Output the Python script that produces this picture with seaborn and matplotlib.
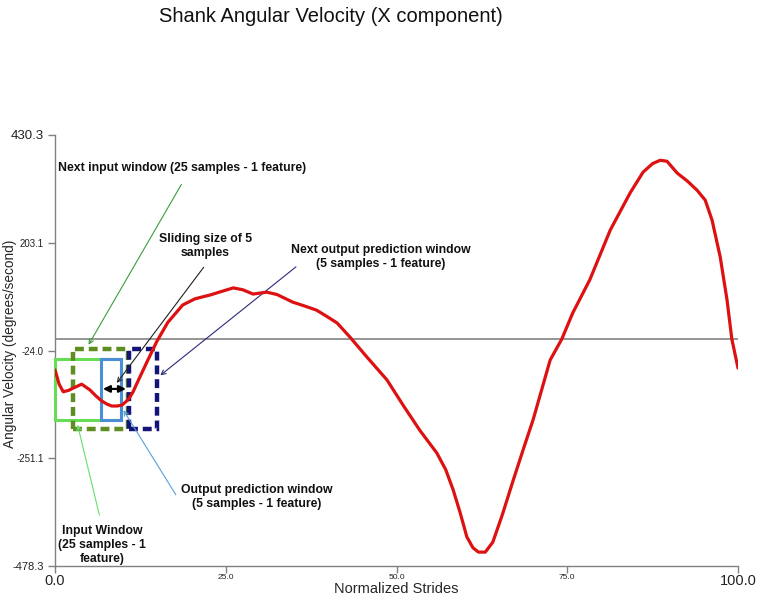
import matplotlib
matplotlib.use("Agg")
import matplotlib.pyplot as plt
from matplotlib.patches import Rectangle
import pandas as pd
import seaborn as sns

# stride curve
stride_pct = [0, 0.6, 1.2, 2.0, 2.7, 3.9, 5.1, 6.0, 6.8, 7.6, 8.3, 9.1, 9.8, 10.7, 11.4,
              12.0, 13.4, 14.9, 16.5, 18.7, 20.5, 22.7, 24.5, 26.1, 27.5, 29.0, 31.0, 32.5,
              34.8, 36.5, 38.3, 40.0, 41.3, 43.2, 45.5, 48.6, 51.0, 53.4, 55.9, 57.2, 58.3,
              59.3, 60.3, 61.2, 62.0, 63.0, 64.1, 65.5, 67.1, 68.5, 70.0, 72.5, 74.2, 75.8,
              78.3, 81.3, 84.2, 86.1, 87.5, 88.6, 89.6, 91.1, 92.6, 94.0, 95.2, 96.2, 97.4,
              98.4, 99.1, 100]
ang_vel = [-65, -95, -111, -108, -103, -95, -107, -120, -130, -137, -141, -141, -139, -128,
           -112, -93, -50, -5, 35, 72, 85, 93, 101, 108, 104, 95, 99, 94, 78, 70, 61, 46, 34,
           4, -35, -86, -140, -192, -240, -275, -318, -365, -417, -440, -449, -449, -428,
           -370, -297, -235, -170, -44, 0, 55, 125, 230, 308, 352, 370, 377, 375, 350, 333,
           314, 293, 251, 173, 82, 0, -61]

y_ticks = [430.3, 203.1, -24.0, -251.1, -478.3]
y_tick_sizes = [9.5, 7, 7, 7, 8]
x_ticks = [0.0, 25.0, 50.0, 75.0, 100.0]
x_tick_sizes = [10.5, 6, 6, 6, 10.5]

df = pd.DataFrame({"stride": stride_pct, "vel": ang_vel})

sns.set_theme(style="white")
plt.rcParams["font.family"] = ["Liberation Sans", "DejaVu Sans"]

fig = plt.figure(figsize=(7.58, 6.04), dpi=100)
ax = fig.add_axes([0.0726, 0.0629, 0.901, 0.7136])

ax.axhline(0, color="#8c8c8c", lw=1.3, zorder=1)
sns.lineplot(data=df, x="stride", y="vel", color="#dd1111", lw=2.3, ax=ax, zorder=4)

# window boxes
ax.add_patch(Rectangle((0, -170), 9.7, 128, fill=False, ec="#66dd55", lw=2.2, zorder=3, clip_on=False))
ax.add_patch(Rectangle((6.7, -170), 3.0, 128, fill=False, ec="#4a8fd6", lw=2.2, zorder=3))
ax.add_patch(Rectangle((2.7, -190), 8.0, 169, fill=False, ec="#5e8e22", lw=3.2,
                       ls=(0, (2, 1.1)), zorder=3))
ax.add_patch(Rectangle((10.9, -190), 4.0, 169, fill=False, ec="#141478", lw=3.2,
                       ls=(0, (2, 1.1)), zorder=3))
ax.annotate("", xy=(6.6, -105), xytext=(10.8, -105),
            arrowprops=dict(arrowstyle="<|-|>", color="black", lw=1.6, mutation_scale=10), zorder=5)

bold = dict(fontsize=8.8, fontweight="bold", color="#111111")

def pointer(xy, start, color):
    ax.annotate("", xy=xy, xytext=start,
                arrowprops=dict(arrowstyle="->", color=color, lw=0.8, mutation_scale=8))

ax.text(0.44, 360, "Next input window (25 samples - 1 feature)", ha="left", va="center", **bold)
pointer((4.7, -17), (18.7, 331), "#3c9c3c")

ax.text(22.0, 196, "Sliding size of 5\nsamples", ha="center", va="center", **bold)
pointer((8.8, -97), (22.0, 156), "#222222")

ax.text(47.7, 173, "Next output prediction window\n(5 samples - 1 feature)", ha="center", va="center", **bold)
pointer((15.1, -80), (35.6, 156), "#2a2a7a")

ax.text(29.6, -333, "Output prediction window\n(5 samples - 1 feature)", ha="center", va="center", **bold)
pointer((9.8, -145), (17.9, -333), "#5aa0d8")

ax.text(6.9, -434, "Input Window\n(25 samples - 1\nfeature)", ha="center", va="center", **bold)
pointer((3.2, -175), (6.6, -377), "#66e066")

ax.set_xlim(0, 100)
ax.set_ylim(-478.3, 430.3)
ax.set_xticks(x_ticks)
ax.set_xticklabels([f"{v:.1f}" for v in x_ticks])
ax.set_yticks(y_ticks)
ax.set_yticklabels([f"{v:.1f}" for v in y_ticks])
for lab, s in zip(ax.get_xticklabels(), x_tick_sizes):
    lab.set_fontsize(s)
for lab, s in zip(ax.get_yticklabels(), y_tick_sizes):
    lab.set_fontsize(s)
ax.tick_params(axis="y", direction="out", length=5, width=1, color="#808080", pad=3,
               left=True, labelcolor="#222222")
ax.tick_params(axis="x", direction="out", length=5, width=1, color="#808080", pad=1,
               bottom=True, labelcolor="#222222")

sns.despine(ax=ax)
for s in ["left", "bottom"]:
    ax.spines[s].set_color("#808080")
    ax.spines[s].set_linewidth(1)

ax.set_xlabel("Normalized Strides", fontsize=10.5)
ax.set_ylabel("Angular Velocity (degrees/second)", fontsize=9.8)
ax.xaxis.set_label_coords(0.5, -0.036)
ax.yaxis.set_label_coords(-0.055, 0.515)

fig.text(331 / 758, 1 - 17 / 604, "Shank Angular Velocity (X component)",
         ha="center", va="center", fontsize=14.5, color="#111111")

fig.savefig("out.png", dpi=100)
